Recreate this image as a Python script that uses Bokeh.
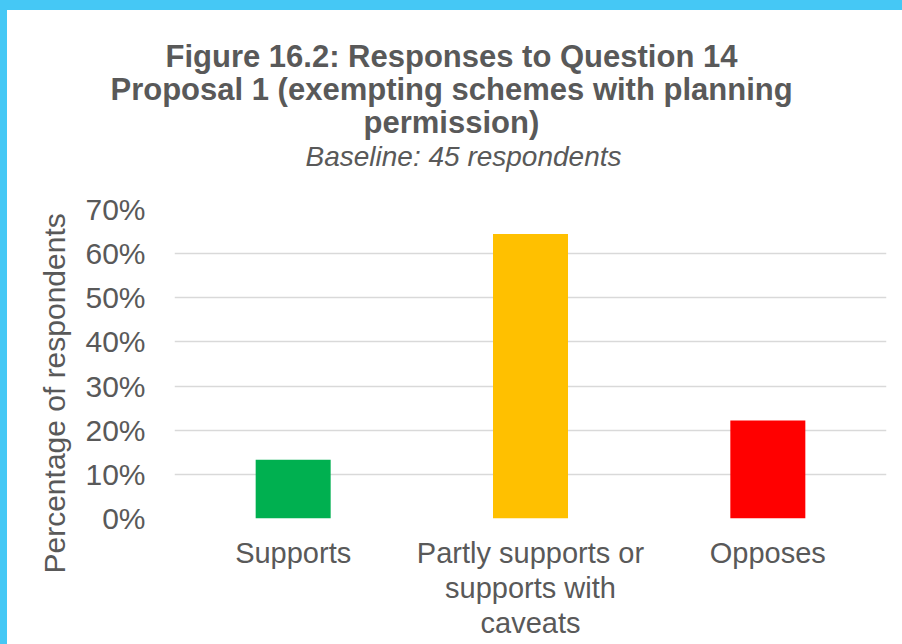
from bokeh.plotting import figure
from bokeh.models import (Range1d, FactorRange, FixedTicker, NumeralTickFormatter, Title,
                          CategoricalAxis, CustomJSTickFormatter)
from bokeh.layouts import column
from bokeh.embed import file_html
from bokeh.resources import INLINE

categories = ["Supports", "Partly supports or supports with caveats", "Opposes"]
tick_line1 = ["Supports", "Partly supports or", "Opposes"]
tick_line2 = ["", "supports with", ""]
tick_line3 = ["", "caveats", ""]
values = [0.1333, 0.6444, 0.2222]
colors = ["#00B050", "#FFC000", "#FF0000"]
y_ticks = [0.0, 0.1, 0.2, 0.3, 0.4, 0.5, 0.6, 0.7]

title_lines = ["Figure 16.2: Responses to Question 14",
               "Proposal 1 (exempting schemes with planning",
               "permission)"]
subtitle = "Baseline: 45 respondents"
y_label = "Percentage of respondents"

FONT = "Liberation Sans"
GREY = "#595959"

p = figure(width=895, height=634, x_range=FactorRange(*categories, range_padding=0),
           y_range=Range1d(0, 0.7), output_backend="svg", toolbar_location=None,
           min_border_left=167, min_border_right=16, min_border_top=199, min_border_bottom=126)
p.outline_line_color = None
p.background_fill_color = "white"
p.border_fill_color = "white"
p.styles = {"background-color": "white"}

p.vbar(x=categories, top=values, width=0.316, color=colors, line_color=None)

p.xgrid.grid_line_color = None
p.ygrid.grid_line_color = "#D9D9D9"
p.ygrid.grid_line_width = 1.5

p.yaxis.ticker = FixedTicker(ticks=y_ticks)
p.yaxis.formatter = NumeralTickFormatter(format="0%")


def style_axis(ax, size):
    ax.axis_line_color = None
    ax.major_tick_line_color = None
    ax.minor_tick_line_color = None
    ax.major_tick_out = 0
    ax.major_tick_in = 0
    ax.minor_tick_out = 0
    ax.minor_tick_in = 0
    ax.major_label_text_font = FONT
    ax.major_label_text_color = GREY
    ax.major_label_text_font_size = size


def line_formatter(lines):
    return CustomJSTickFormatter(args=dict(labels=lines), code="return labels[index];")


style_axis(p.yaxis[0], "30px")
style_axis(p.xaxis[0], "29px")
p.yaxis.major_label_standoff = 29
p.xaxis.major_label_standoff = 18
p.xaxis.formatter = line_formatter(tick_line1)

for lines in (tick_line2, tick_line3):
    ax = CategoricalAxis(formatter=line_formatter(lines))
    style_axis(ax, "29px")
    ax.major_label_standoff = 0
    p.add_layout(ax, "below")

# spacer between the frame and the subtitle
p.add_layout(Title(text=" ", text_font_size="1px", text_color="white", standoff=34), "above")

# titles: added from the frame outward
title_specs = [
    (subtitle, "28px", "italic", 131, 2),
    (title_lines[2], "31px", "bold", 189, -4),
    (title_lines[1], "31px", "bold", -64, -4),
    (title_lines[0], "31px", "bold", -9, -4),
]
for text, size, style, off, so in title_specs:
    p.add_layout(Title(text=text, text_font=FONT, text_font_size=size, text_font_style=style,
                       text_color=GREY, align="left", offset=off, standoff=so), "above")

p.add_layout(Title(text=y_label, text_font=FONT, text_font_size="30px", text_font_style="normal",
                   text_color=GREY, align="left", offset=-55, standoff=23), "left")

layout = column(p, styles={"background-color": "#45C8F5", "padding": "10px 0px 0px 7px"})

open("out.html", "w").write(file_html(layout, INLINE))
